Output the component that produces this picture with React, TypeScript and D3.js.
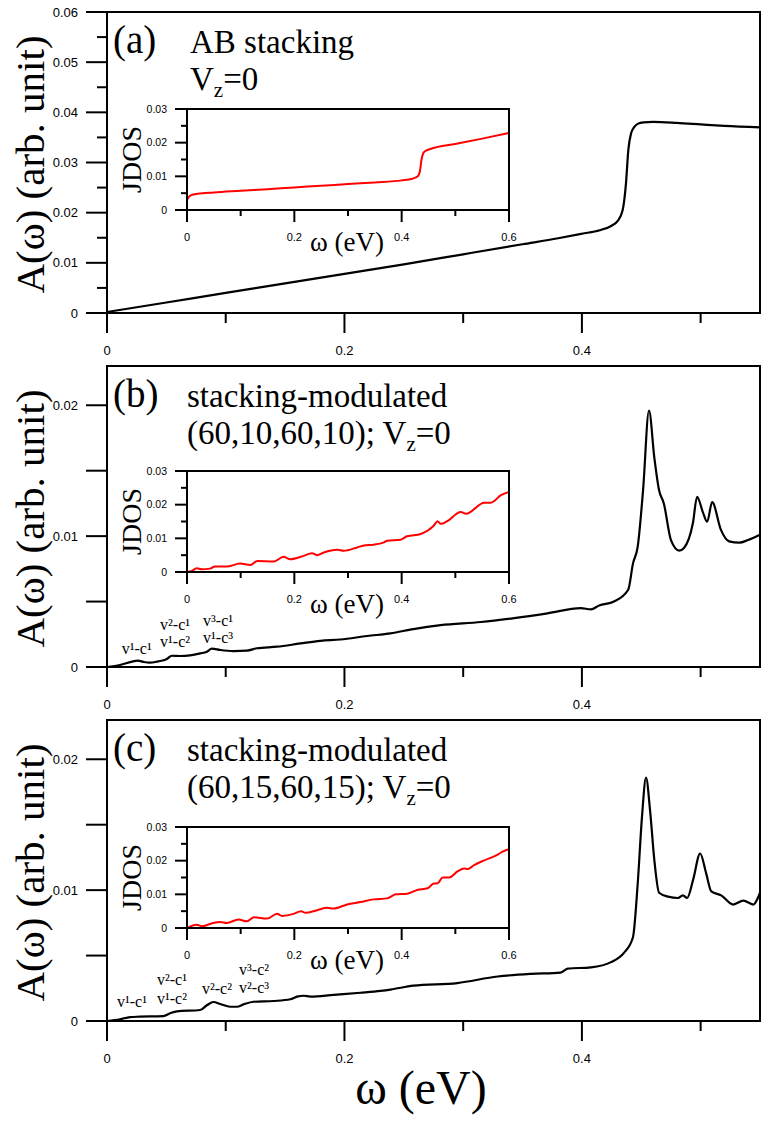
import { useEffect, useRef } from 'react';
import * as d3 from 'd3';

type Pt = [number, number];

// A(ω) spectra: [ω (eV), A (arb. unit)]
const specAB: Pt[] = [
  [0, 0.0002], [0.05, 0.0021], [0.1, 0.004], [0.15, 0.0059], [0.2, 0.0078], [0.25, 0.0097],
  [0.3, 0.0117], [0.35, 0.0137], [0.38, 0.0149], [0.4, 0.0158], [0.415, 0.0165], [0.425, 0.0174],
  [0.43, 0.0183], [0.4343, 0.0205], [0.4371, 0.0258], [0.4391, 0.0325], [0.4414, 0.0358],
  [0.4445, 0.0372], [0.447, 0.0377], [0.452, 0.038], [0.46, 0.0381], [0.48, 0.0379],
  [0.5, 0.0376], [0.52, 0.0373], [0.55, 0.037],
];

const spec6010: Pt[] = [
  [0, 0], [0.011, 0.00015], [0.022, 0.00043], [0.026, 0.00048], [0.031, 0.00038], [0.036, 0.00033],
  [0.043, 0.00043], [0.05, 0.00059], [0.0546, 0.00086], [0.0616, 0.00084], [0.07, 0.00089],
  [0.0785, 0.00104], [0.0841, 0.00117], [0.0883, 0.0014], [0.0954, 0.0013], [0.1066, 0.00122],
  [0.1179, 0.00125], [0.1263, 0.00143], [0.1432, 0.00155], [0.1629, 0.0018], [0.1797, 0.002],
  [0.1966, 0.0021], [0.2191, 0.00237], [0.2388, 0.00257], [0.258, 0.0029], [0.281, 0.0032],
  [0.315, 0.00344], [0.343, 0.00374], [0.371, 0.0041], [0.399, 0.0045], [0.4076, 0.0044],
  [0.4145, 0.0047], [0.427, 0.005], [0.439, 0.0059], [0.443, 0.0079], [0.447, 0.0092],
  [0.4515, 0.0135], [0.4565, 0.0196], [0.461, 0.016], [0.465, 0.0135], [0.469, 0.0125],
  [0.475, 0.0097], [0.482, 0.0089], [0.486, 0.0091], [0.4935, 0.011], [0.497, 0.013],
  [0.502, 0.0118], [0.5055, 0.0111], [0.5097, 0.0126], [0.517, 0.0105], [0.524, 0.0096],
  [0.5325, 0.0095], [0.54, 0.0097], [0.55, 0.0101],
];

const spec6015: Pt[] = [
  [0, 0], [0.011, 0.00013], [0.0194, 0.0003], [0.0278, 0.00033], [0.0475, 0.00038], [0.0532, 0.00059],
  [0.0588, 0.00074], [0.0785, 0.00084], [0.0841, 0.0012], [0.0897, 0.00145], [0.0954, 0.0013],
  [0.1038, 0.00109], [0.1094, 0.00109], [0.115, 0.00127], [0.1235, 0.00147], [0.1403, 0.00153],
  [0.1544, 0.00166], [0.16, 0.00186], [0.1657, 0.00193], [0.1713, 0.00186], [0.191, 0.002],
  [0.2135, 0.00216], [0.2304, 0.0023], [0.2388, 0.0024], [0.258, 0.0027], [0.295, 0.0029],
  [0.329, 0.0034], [0.357, 0.0036], [0.382, 0.0037], [0.388, 0.004], [0.4076, 0.0041],
  [0.4245, 0.0045], [0.4354, 0.0052], [0.443, 0.0064], [0.447, 0.0105], [0.4506, 0.0156],
  [0.454, 0.0186], [0.4574, 0.0161], [0.461, 0.0123], [0.465, 0.0098], [0.4726, 0.0095],
  [0.481, 0.0094], [0.485, 0.0096], [0.4886, 0.0094], [0.4937, 0.0108], [0.4996, 0.0128],
  [0.5046, 0.0113], [0.509, 0.0099], [0.5173, 0.0096], [0.5274, 0.0089], [0.536, 0.0092],
  [0.5443, 0.0089], [0.55, 0.0098],
];

// inset JDOS curves
const jdosAB: Pt[] = [
  [0, 0.003], [0.003, 0.0038], [0.008, 0.0044], [0.02, 0.0048], [0.05, 0.0052], [0.1, 0.0057],
  [0.15, 0.0062], [0.2, 0.0067], [0.25, 0.0072], [0.3, 0.0077], [0.35, 0.0082], [0.4, 0.0088],
  [0.42, 0.0093], [0.43, 0.01], [0.434, 0.0115], [0.437, 0.015], [0.44, 0.0168], [0.445, 0.0176],
  [0.455, 0.0182], [0.5, 0.0196], [0.55, 0.0212], [0.6, 0.0229],
];

const jdos6010: Pt[] = [
  [0, 0], [0.008, 0.0002], [0.018, 0.0011], [0.0274, 0.0008], [0.043, 0.001], [0.052, 0.0016],
  [0.074, 0.0016], [0.099, 0.0025], [0.118, 0.0021], [0.131, 0.0033], [0.161, 0.0031],
  [0.18, 0.0045], [0.1925, 0.0038], [0.2174, 0.0048], [0.233, 0.0056], [0.2424, 0.005],
  [0.255, 0.0058], [0.28, 0.0066], [0.292, 0.0063], [0.317, 0.0073], [0.3296, 0.0079],
  [0.348, 0.0081], [0.367, 0.0088], [0.373, 0.0093], [0.398, 0.0096], [0.41, 0.0106],
  [0.4355, 0.0113], [0.46, 0.0138], [0.467, 0.0151], [0.473, 0.0143], [0.485, 0.0151],
  [0.51, 0.0178], [0.52, 0.0173], [0.554, 0.0206], [0.566, 0.0206], [0.585, 0.0228], [0.6, 0.0238],
];

const jdos6015: Pt[] = [
  [0, 0], [0.018, 0.001], [0.0275, 0.0005], [0.049, 0.0015], [0.0617, 0.0018], [0.074, 0.0015],
  [0.096, 0.0025], [0.1116, 0.002], [0.125, 0.0032], [0.149, 0.0028], [0.168, 0.0042],
  [0.177, 0.0036], [0.1987, 0.0042], [0.2125, 0.005], [0.2206, 0.0045], [0.2424, 0.0053],
  [0.261, 0.006], [0.2735, 0.0058], [0.2984, 0.007], [0.323, 0.0077], [0.348, 0.0085],
  [0.373, 0.0088], [0.389, 0.01], [0.4106, 0.0102], [0.429, 0.0113], [0.448, 0.0118],
  [0.46, 0.0132], [0.467, 0.0133], [0.4766, 0.015], [0.4885, 0.015], [0.504, 0.0168],
  [0.5165, 0.0177], [0.523, 0.0175], [0.535, 0.0187], [0.554, 0.0201], [0.579, 0.0218],
  [0.588, 0.0227], [0.6, 0.0234],
];

// ticks
const mainXTicks = [0, 0.1, 0.2, 0.3, 0.4, 0.5];
const mainXLabels = [0, 0.2, 0.4];
const yTicksA = [0, 0.01, 0.02, 0.03, 0.04, 0.05, 0.06];
const yMinorA = [0.005, 0.015, 0.025, 0.035, 0.045, 0.055];
const yTicksBC = [0, 0.005, 0.01, 0.015, 0.02];
const yLabelsBC = [0, 0.01, 0.02];
const insetXTicks = [0, 0.2, 0.4, 0.6];
const insetXMinor = [0.1, 0.3, 0.5];
const insetYTicks = [0, 0.01, 0.02, 0.03];
const insetYMinor = [0.005, 0.015, 0.025];

// transition labels, anchored at [ω, A] of their text start / baseline
const notesB = [
  { text: 'v¹-c¹', w: 0.0124, a: 0.00099 },
  { text: 'v²-c¹', w: 0.0447, a: 0.00282 },
  { text: 'v¹-c²', w: 0.0447, a: 0.00153 },
  { text: 'v³-c¹', w: 0.0809, a: 0.00313 },
  { text: 'v¹-c³', w: 0.0809, a: 0.00183 },
];
const notesC = [
  { text: 'v¹-c¹', w: 0.0084, a: 0.00107 },
  { text: 'v²-c¹', w: 0.0421, a: 0.00275 },
  { text: 'v¹-c²', w: 0.0421, a: 0.0013 },
  { text: 'v²-c²', w: 0.08, a: 0.00206 },
  { text: 'v³-c²', w: 0.1112, a: 0.00351 },
  { text: 'v²-c³', w: 0.1112, a: 0.00214 },
];

const panels = [
  { tag: '(a)', line1: 'AB stacking', pre: '', yMax: 0.06, yTicks: yTicksA, yMinor: yMinorA, yLabels: yTicksA, spec: specAB, jdos: jdosAB, notes: [] as typeof notesB, insetTop: 109, textX: 190 },
  { tag: '(b)', line1: 'stacking-modulated', pre: '(60,10,60,10); ', yMax: 0.023, yTicks: yTicksBC, yMinor: [], yLabels: yLabelsBC, spec: spec6010, jdos: jdos6010, notes: notesB, insetTop: 471, textX: 187 },
  { tag: '(c)', line1: 'stacking-modulated', pre: '(60,15,60,15); ', yMax: 0.023, yTicks: yTicksBC, yMinor: [], yLabels: yLabelsBC, spec: spec6015, jdos: jdos6015, notes: notesC, insetTop: 827, textX: 187 },
];

const W = 767;
const H = 1125;
const serif = '"Liberation Serif", "Times New Roman", serif';
const sans = '"Liberation Sans", Arial, sans-serif';
const fmt = d3.format('~g');

export default function App() {
  const svgRef = useRef<SVGSVGElement>(null);

  useEffect(() => {
    if (!svgRef.current) return;
    const svg = d3.select(svgRef.current);
    svg.selectAll('*').remove();

    const left = 107, right = 760, ph = 301;
    const iLeft = 187, iRight = 509, ih = 101;
    const x = d3.scaleLinear().domain([0, 0.55]).range([left, right]);
    const xi = d3.scaleLinear().domain([0, 0.6]).range([iLeft, iRight]);

    panels.forEach((p, idx) => {
      const top = 12 + idx * 354;
      const bottom = top + ph;
      const y = d3.scaleLinear().domain([0, p.yMax]).range([bottom, top]);
      const g = svg.append('g');

      // y ticks
      g.selectAll('line.yt').data(p.yTicks).join('line')
        .attr('x1', left - 21).attr('x2', left).attr('y1', (d) => y(d)).attr('y2', (d) => y(d))
        .attr('stroke', '#000').attr('stroke-width', 2);
      g.selectAll('line.ym').data(p.yMinor).join('line')
        .attr('x1', left - 10).attr('x2', left).attr('y1', (d) => y(d)).attr('y2', (d) => y(d))
        .attr('stroke', '#000').attr('stroke-width', 2);
      g.selectAll('text.yl').data(p.yLabels).join('text')
        .attr('x', 78).attr('y', (d) => y(d)).attr('dy', '0.35em')
        .attr('text-anchor', 'end').attr('font-family', sans).attr('font-size', 13)
        .text((d) => fmt(d));

      // x ticks
      g.selectAll('line.xt').data(mainXTicks).join('line')
        .attr('x1', (d) => x(d)).attr('x2', (d) => x(d)).attr('y1', bottom)
        .attr('y2', (d) => bottom + (Math.round(d * 10) % 2 === 0 ? 20 : 10))
        .attr('stroke', '#000').attr('stroke-width', 2);
      g.selectAll('text.xl').data(mainXLabels).join('text')
        .attr('x', (d) => x(d)).attr('y', bottom + 37).attr('dy', '0.35em')
        .attr('text-anchor', 'middle').attr('font-family', sans).attr('font-size', 13)
        .text((d) => fmt(d));

      // curve
      const line = d3.line<Pt>().x((d) => x(d[0])).y((d) => y(d[1])).curve(d3.curveMonotoneX);
      g.append('path').datum(p.spec).attr('d', line)
        .attr('fill', 'none').attr('stroke', '#000').attr('stroke-width', 2.2)
        .attr('stroke-linejoin', 'round');

      // frame
      g.append('rect').attr('x', left).attr('y', top).attr('width', right - left).attr('height', ph)
        .attr('fill', 'none').attr('stroke', '#000').attr('stroke-width', 2);

      // y title
      g.append('text')
        .attr('transform', `translate(44,${(top + bottom) / 2 + 2}) rotate(-90)`)
        .attr('text-anchor', 'middle').attr('font-family', serif).attr('font-size', 41)
        .text('A(ω) (arb. unit)');

      // panel titles
      g.append('text').attr('x', 113).attr('y', top + 41)
        .attr('font-family', serif).attr('font-size', 39).text(p.tag);
      g.append('text').attr('x', p.textX).attr('y', top + 41)
        .attr('font-family', serif).attr('font-size', 33).text(p.line1);
      const t2 = g.append('text').attr('x', p.textX).attr('y', top + 78)
        .attr('font-family', serif).attr('font-size', 33);
      t2.append('tspan').text(p.pre + 'V');
      t2.append('tspan').attr('font-size', 21).attr('dy', 7).text('z');
      t2.append('tspan').attr('dy', -7).text('=0');

      // transition labels
      g.selectAll('text.note').data(p.notes).join('text')
        .attr('x', (d) => x(d.w)).attr('y', (d) => y(d.a))
        .attr('font-family', serif).attr('font-size', 16)
        .text((d) => d.text);

      // inset
      const iTop = p.insetTop;
      const iBottom = iTop + ih;
      const yi = d3.scaleLinear().domain([0, 0.03]).range([iBottom, iTop]);
      const ig = g.append('g');
      ig.append('rect').attr('x', iLeft).attr('y', iTop).attr('width', iRight - iLeft).attr('height', ih)
        .attr('fill', '#fff');
      ig.selectAll('line.iyt').data(insetYTicks).join('line')
        .attr('x1', iLeft - 12).attr('x2', iLeft).attr('y1', (d) => yi(d)).attr('y2', (d) => yi(d))
        .attr('stroke', '#000').attr('stroke-width', 2);
      ig.selectAll('line.iym').data(insetYMinor).join('line')
        .attr('x1', iLeft - 6).attr('x2', iLeft).attr('y1', (d) => yi(d)).attr('y2', (d) => yi(d))
        .attr('stroke', '#000').attr('stroke-width', 2);
      ig.selectAll('text.iyl').data(insetYTicks).join('text')
        .attr('x', 167).attr('y', (d) => yi(d)).attr('dy', '0.35em')
        .attr('text-anchor', 'end').attr('font-family', sans).attr('font-size', 10.5)
        .text((d) => fmt(d));
      ig.selectAll('line.ixt').data(insetXTicks).join('line')
        .attr('x1', (d) => xi(d)).attr('x2', (d) => xi(d)).attr('y1', iBottom).attr('y2', iBottom + 12)
        .attr('stroke', '#000').attr('stroke-width', 2);
      ig.selectAll('line.ixm').data(insetXMinor).join('line')
        .attr('x1', (d) => xi(d)).attr('x2', (d) => xi(d)).attr('y1', iBottom).attr('y2', iBottom + 6)
        .attr('stroke', '#000').attr('stroke-width', 2);
      ig.selectAll('text.ixl').data(insetXTicks).join('text')
        .attr('x', (d) => xi(d)).attr('y', iBottom + 27).attr('dy', '0.35em')
        .attr('text-anchor', 'middle').attr('font-family', sans).attr('font-size', 11)
        .text((d) => fmt(d));

      const iline = d3.line<Pt>().x((d) => xi(d[0])).y((d) => yi(d[1])).curve(d3.curveMonotoneX);
      ig.append('path').datum(p.jdos).attr('d', iline)
        .attr('fill', 'none').attr('stroke', '#ff0000').attr('stroke-width', 2)
        .attr('stroke-linejoin', 'round');
      ig.append('rect').attr('x', iLeft).attr('y', iTop).attr('width', iRight - iLeft).attr('height', ih)
        .attr('fill', 'none').attr('stroke', '#000').attr('stroke-width', 2);

      ig.append('text')
        .attr('transform', `translate(141,${(iTop + iBottom) / 2}) rotate(-90)`)
        .attr('text-anchor', 'middle').attr('font-family', serif).attr('font-size', 28)
        .text('JDOS');
      ig.append('text').attr('x', 347).attr('y', iBottom + 41)
        .attr('text-anchor', 'middle').attr('font-family', serif).attr('font-size', 27)
        .text('ω (eV)');
    });

    svg.append('text').attr('x', 421).attr('y', 1104)
      .attr('text-anchor', 'middle').attr('font-family', serif).attr('font-size', 48)
      .text('ω (eV)');
  }, []);

  return (
    <svg
      ref={svgRef}
      width={W}
      height={H}
      viewBox={`0 0 ${W} ${H}`}
      style={{ position: 'absolute', left: 0, top: 0, background: '#fff', display: 'block' }}
    />
  );
}
